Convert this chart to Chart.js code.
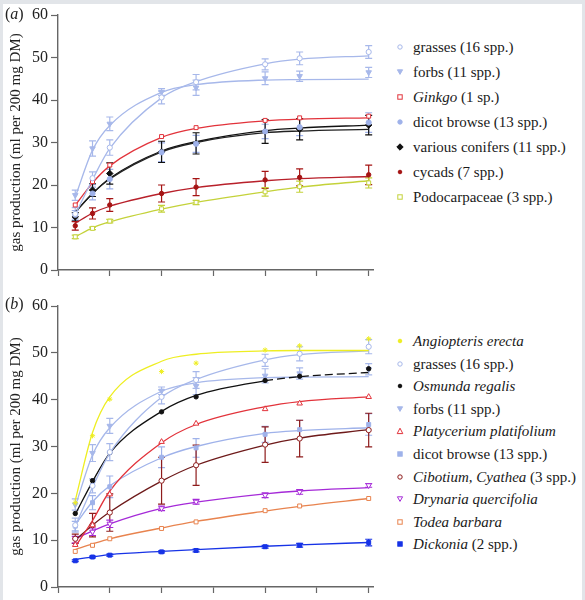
<!DOCTYPE html>
<html>
<head>
<meta charset="utf-8">
<script src="https://cdn.jsdelivr.net/npm/chart.js@4.4.1/dist/chart.umd.min.js"></script>
<style>
  body { margin: 0; background: #e2e5e9; width: 585px; height: 600px; overflow: hidden; font-family: "Liberation Serif", serif; }
  #page { position: absolute; left: 3px; top: 4px; width: 579px; height: 596px; background: #fff; }
  canvas { position: absolute; left: 0; }
  .panel { position: absolute; left: 5px; font-size: 16px; color: #222; }
  .legend { position: absolute; left: 395px; font-size: 15px; color: #1a1a1a; }
  .legend div { position: absolute; white-space: nowrap; line-height: 18px; }
  .legend svg { position: absolute; left: 0; top: 4px; }
  .legend span { position: absolute; left: 18px; top: 0; }
</style>
</head>
<body>
<div id="page"></div>
<canvas id="chartA" width="385" height="290" style="top:0"></canvas>
<canvas id="chartB" width="385" height="310" style="top:290px"></canvas>
<div class="panel" style="top:5px">(<i>a</i>)</div>
<div class="panel" style="top:295px">(<i>b</i>)</div>
<div class="legend" id="legendA" style="top:38px"></div>
<div class="legend" id="legendB" style="top:332px"></div>
<script>
// incubation times (h) and axis ticks
const hours = [4, 8, 12, 24, 32, 48, 56, 72];
const xTicks = [0, 12, 24, 36, 48, 60, 72];
const yTicks = [0, 10, 20, 30, 40, 50, 60];

// panel (a)
const grassesMean = [13.2, 21.6, 28.8, 40.6, 44.2, 48.4, 49.8, 51.3];
const grassesErr  = [1.5, 1.5, 1.8, 1.5, 1.8, 1.3, 1.5, 1.5];
const grassesFit  = [13.0, 21.3, 28.6, 40.5, 44.3, 48.5, 49.6, 50.4];

const forbsMean = [17.6, 28.6, 34.4, 41.9, 42.9, 45.1, 45.6, 46.5];
const forbsErr  = [1.2, 1.8, 1.6, 0.8, 1.8, 1.5, 1.2, 1.2];
const forbsFit  = [17.2, 28.2, 34.0, 41.8, 43.6, 44.7, 44.8, 44.9];

const ginkgoMean = [15.3, 20.8, 24.7, 31.4, 33.5, 35.2, 35.8, 36.2];
const ginkgoFit  = [15.2, 20.5, 24.5, 31.2, 33.3, 35.1, 35.5, 35.8];

const dicotMean = [13.0, 18.0, 21.4, 27.7, 29.7, 32.6, 33.6, 34.7];
const dicotErr  = [1.0, 1.5, 2.3, 2.2, 2.0, 1.7, 2.0, 2.3];
const dicotFitA = [13.6, 18.0, 21.4, 27.8, 30.0, 32.3, 32.7, 33.1];
const dicotFitB = [13.3, 18.2, 21.6, 27.6, 30.0, 32.8, 33.4, 34.0];

const coniferMean = [12.5, 18.8, 22.7, 27.8, 29.8, 32.6, 33.1, 34.1];
const coniferErr  = [1.0, 1.5, 2.5, 2.5, 2.5, 2.8, 2.5, 2.3];
const coniferFit  = [13.6, 18.0, 21.6, 28.0, 30.2, 32.8, 33.4, 34.1];

const cycadMean = [10.4, 13.3, 15.3, 18.0, 19.5, 21.2, 21.8, 22.4];
const cycadErr  = [1.0, 1.3, 1.5, 2.0, 2.0, 2.0, 2.0, 2.3];
const cycadFit  = [11.0, 13.4, 15.0, 18.0, 19.4, 21.0, 21.5, 22.0];

const podoMean = [7.8, 9.8, 11.5, 14.4, 15.9, 18.4, 19.6, 20.5];
const podoErr  = [0.4, 0.3, 0.4, 0.8, 0.5, 1.0, 1.3, 1.2];
const podoFit  = [7.8, 9.9, 11.3, 14.3, 15.9, 18.4, 19.5, 21.0];

// panel (b) ferns
const angioMean = [18.0, 32.3, 40.1, 46.0, 47.8, 50.6, 51.5, 53.0];
const angioFit  = [18.5, 33.0, 40.6, 48.2, 49.7, 50.4, 50.5, 50.5];

const osmundaMean = [15.7, 22.7, 28.7, 37.4, 40.6, 44.1, 45.0, 46.6];
const osmundaFit  = [15.5, 22.5, 28.6, 37.5, 40.9, 44.0, 44.9, 45.8];

const platyMean = [9.0, 13.2, 19.8, 31.0, 34.9, 38.0, 39.2, 40.6];
const platyFit  = [8.6, 14.2, 20.5, 30.8, 34.7, 38.5, 39.6, 40.6];

const cibotMean = [10.3, 13.2, 15.9, 22.7, 26.0, 30.4, 31.7, 33.5];
const cibotErr  = [1.0, 2.5, 4.0, 5.0, 4.3, 3.8, 3.9, 3.6];
const cibotFit  = [10.0, 13.2, 16.0, 22.6, 26.0, 30.3, 31.8, 33.6];

const drynMean = [10.1, 11.8, 13.5, 16.8, 18.2, 19.6, 20.3, 21.7];
const drynErr  = [0.7, 0.8, 0.8, 0.5, 0.5, 0.5, 0.5, 0.4];
const drynFit  = [10.3, 12.0, 13.5, 16.8, 18.1, 19.9, 20.5, 21.2];

const todeaMean = [7.6, 8.9, 10.3, 12.5, 13.9, 16.3, 17.3, 18.9];
const todeaFit  = [8.0, 9.2, 10.3, 12.6, 14.0, 16.2, 17.2, 18.9];

const dickMean = [5.6, 6.4, 6.8, 7.5, 7.8, 8.6, 8.9, 9.5];
const dickErr  = [0.2, 0.2, 0.2, 0.2, 0.3, 0.3, 0.4, 0.7];
const dickFit  = [5.9, 6.4, 6.9, 7.6, 8.0, 8.7, 9.0, 9.5];

const LB = '#a7b8ea';

const seriesA = [
  { label: 'grasses (16 spp.)', mean: grassesMean, err: grassesErr, fit: grassesFit, color: LB, style: 'circle', open: true },
  { label: 'forbs (11 spp.)', mean: forbsMean, err: forbsErr, fit: forbsFit, color: LB, style: 'triDown' },
  { label: '<i>Ginkgo</i> (1 sp.)', mean: ginkgoMean, fit: ginkgoFit, color: '#e2333b', style: 'rect', open: true },
  { label: 'dicot browse (13 spp.)', mean: dicotMean, err: dicotErr, fit: dicotFitA, color: '#9fb2ea', line: '#222', style: 'circle' },
  { label: 'various conifers (11 spp.)', mean: coniferMean, err: coniferErr, fit: coniferFit, color: '#111', style: 'rectRot' },
  { label: 'cycads (7 spp.)', mean: cycadMean, err: cycadErr, fit: cycadFit, color: '#a51414', line: '#b8202a', style: 'dot' },
  { label: 'Podocarpaceae (3 spp.)', mean: podoMean, err: podoErr, fit: podoFit, color: '#c4d23a', style: 'rect', open: true }
];

const seriesB = [
  { label: '<i>Angiopteris erecta</i>', mean: angioMean, fit: angioFit, color: '#eeee22', style: 'star' },
  { label: 'grasses (16 spp.)', mean: grassesMean, err: grassesErr, fit: grassesFit, color: LB, style: 'circle', open: true },
  { label: '<i>Osmunda regalis</i>', mean: osmundaMean, fit: osmundaFit, color: '#111', style: 'dot' , dashFrom: 48 },
  { label: 'forbs (11 spp.)', mean: forbsMean, err: forbsErr, fit: forbsFit, color: LB, style: 'triDown' },
  { label: '<i>Platycerium platifolium</i>', mean: platyMean, fit: platyFit, color: '#e2333b', style: 'triUp', open: true },
  { label: 'dicot browse (13 spp.)', mean: dicotMean, err: dicotErr, fit: dicotFitB, color: '#9fb2ea', style: 'rect' },
  { label: '<i>Cibotium, Cyathea</i> (3 spp.)', mean: cibotMean, err: cibotErr, fit: cibotFit, color: '#8e1c1c', line: '#6e1a1a', style: 'circle', open: true },
  { label: '<i>Drynaria quercifolia</i>', mean: drynMean, err: drynErr, fit: drynFit, color: '#a52ad8', style: 'triDown', open: true },
  { label: '<i>Todea barbara</i>', mean: todeaMean, fit: todeaFit, color: '#e8834e', style: 'rect', open: true },
  { label: '<i>Dickonia</i> (2 spp.)', mean: dickMean, err: dickErr, fit: dickFit, color: '#1733e6', style: 'rect' }
];

Chart.defaults.font.family = '"Liberation Serif", serif';
Chart.defaults.color = '#222';

const pointStyles = {
  circle: ['circle', 0, 2.6], dot: ['circle', 0, 2.2], rect: ['rect', 0, 2.8],
  rectRot: ['rectRot', 0, 3.2], triUp: ['triangle', 0, 3.2], triDown: ['triangle', 180, 3.2],
  star: ['star', 0, 2.6]
};

const errorBars = {
  id: 'errorBars',
  beforeDatasetsDraw(chart) {
    const { ctx, scales: { x, y } } = chart;
    chart.data.datasets.forEach(ds => {
      if (!ds.errors) return;
      ctx.save();
      ctx.strokeStyle = ds.borderColor;
      ctx.lineWidth = 1.2;
      ds.data.forEach((p, j) => {
        const e = ds.errors[j];
        if (!e) return;
        const px = x.getPixelForValue(p.x);
        const top = y.getPixelForValue(p.y + e), bot = y.getPixelForValue(p.y - e);
        ctx.beginPath();
        ctx.moveTo(px, top); ctx.lineTo(px, bot);
        ctx.moveTo(px - 3.5, top); ctx.lineTo(px + 3.5, top);
        ctx.moveTo(px - 3.5, bot); ctx.lineTo(px + 3.5, bot);
        ctx.stroke();
      });
      ctx.restore();
    });
  }
};

function buildDatasets(series) {
  const pts = [], lines = [];
  series.forEach(s => {
    const [ps, rot, r] = pointStyles[s.style];
    pts.push({
      data: hours.map((h, i) => ({ x: h, y: s.mean[i] })),
      errors: s.err,
      showLine: false,
      pointStyle: ps, pointRotation: rot, pointRadius: r,
      borderColor: s.color,
      backgroundColor: s.open ? '#fff' : s.color,
      pointBorderWidth: 1
    });
    lines.push({
      data: hours.map((h, i) => ({ x: h, y: s.fit[i] })),
      borderColor: s.line || s.color,
      borderWidth: 1.3,
      pointRadius: 0,
      cubicInterpolationMode: 'monotone',
      segment: s.dashFrom ? { borderDash: c => c.p0.parsed.x >= s.dashFrom ? [8, 4] : undefined } : undefined
    });
  });
  // lower dataset index is drawn on top, so markers go first
  return pts.concat(lines);
}

function makeChart(id, series, padTop, xHeight) {
  return new Chart(document.getElementById(id), {
    type: 'line',
    data: { datasets: buildDatasets(series) },
    options: {
      responsive: false,
      animation: false,
      layout: { padding: { top: padTop, right: 12, left: 0, bottom: 0 } },
      plugins: { legend: { display: false }, tooltip: { enabled: false } },
      scales: {
        x: {
          type: 'linear', min: 0, max: 73,
          afterBuildTicks: s => { s.ticks = xTicks.map(v => ({ value: v })); },
          afterFit: s => { s.height = xHeight; },
          ticks: { display: false },
          grid: { drawOnChartArea: false, color: '#666', tickLength: 6, tickWidth: 1.2 },
          border: { color: '#666', width: 1.4 }
        },
        y: {
          min: 0, max: 60,
          afterBuildTicks: s => { s.ticks = yTicks.map(v => ({ value: v })); },
          afterFit: s => { s.width = 58; },
          ticks: { font: { size: 16 }, color: '#222', padding: 3 },
          grid: { drawOnChartArea: false, color: '#666', tickLength: 7, tickWidth: 1.2 },
          border: { color: '#666', width: 1.4 },
          title: { display: true, text: 'gas production (ml per 200 mg DM)', font: { size: 15 }, color: '#222', padding: { top: 7, bottom: 0 } }
        }
      }
    },
    plugins: [errorBars]
  });
}

function markerSvg(s) {
  const fill = s.open ? '#fff' : s.color;
  const a = `fill="${fill}" stroke="${s.color}" stroke-width="1"`;
  const shapes = {
    circle: `<circle cx="5" cy="5" r="2.2" ${a}/>`,
    dot: `<circle cx="5" cy="5" r="1.8" ${a}/>`,
    rect: `<rect x="2.8" y="2.8" width="4.4" height="4.4" ${a}/>`,
    rectRot: `<polygon points="5,1.8 8.2,5 5,8.2 1.8,5" ${a}/>`,
    triUp: `<polygon points="5,2.2 7.8,7.6 2.2,7.6" ${a}/>`,
    triDown: `<polygon points="2.4,2.8 7.6,2.8 5,7.4" ${a}/>`,
    star: `<circle cx="5" cy="5" r="1.8" ${a}/>`
  };
  return `<svg width="10" height="10">${shapes[s.style]}</svg>`;
}

function makeLegend(id, series, step) {
  const el = document.getElementById(id);
  series.forEach((s, i) => {
    const row = document.createElement('div');
    row.style.top = (i * step) + 'px';
    row.innerHTML = markerSvg(s) + `<span>${s.label}</span>`;
    el.appendChild(row);
  });
}

makeChart('chartA', seriesA, 15, 20);
makeChart('chartB', seriesB, 16, 13);
makeLegend('legendA', seriesA, 25);
makeLegend('legendB', seriesB, 22.6);
</script>
</body>
</html>
